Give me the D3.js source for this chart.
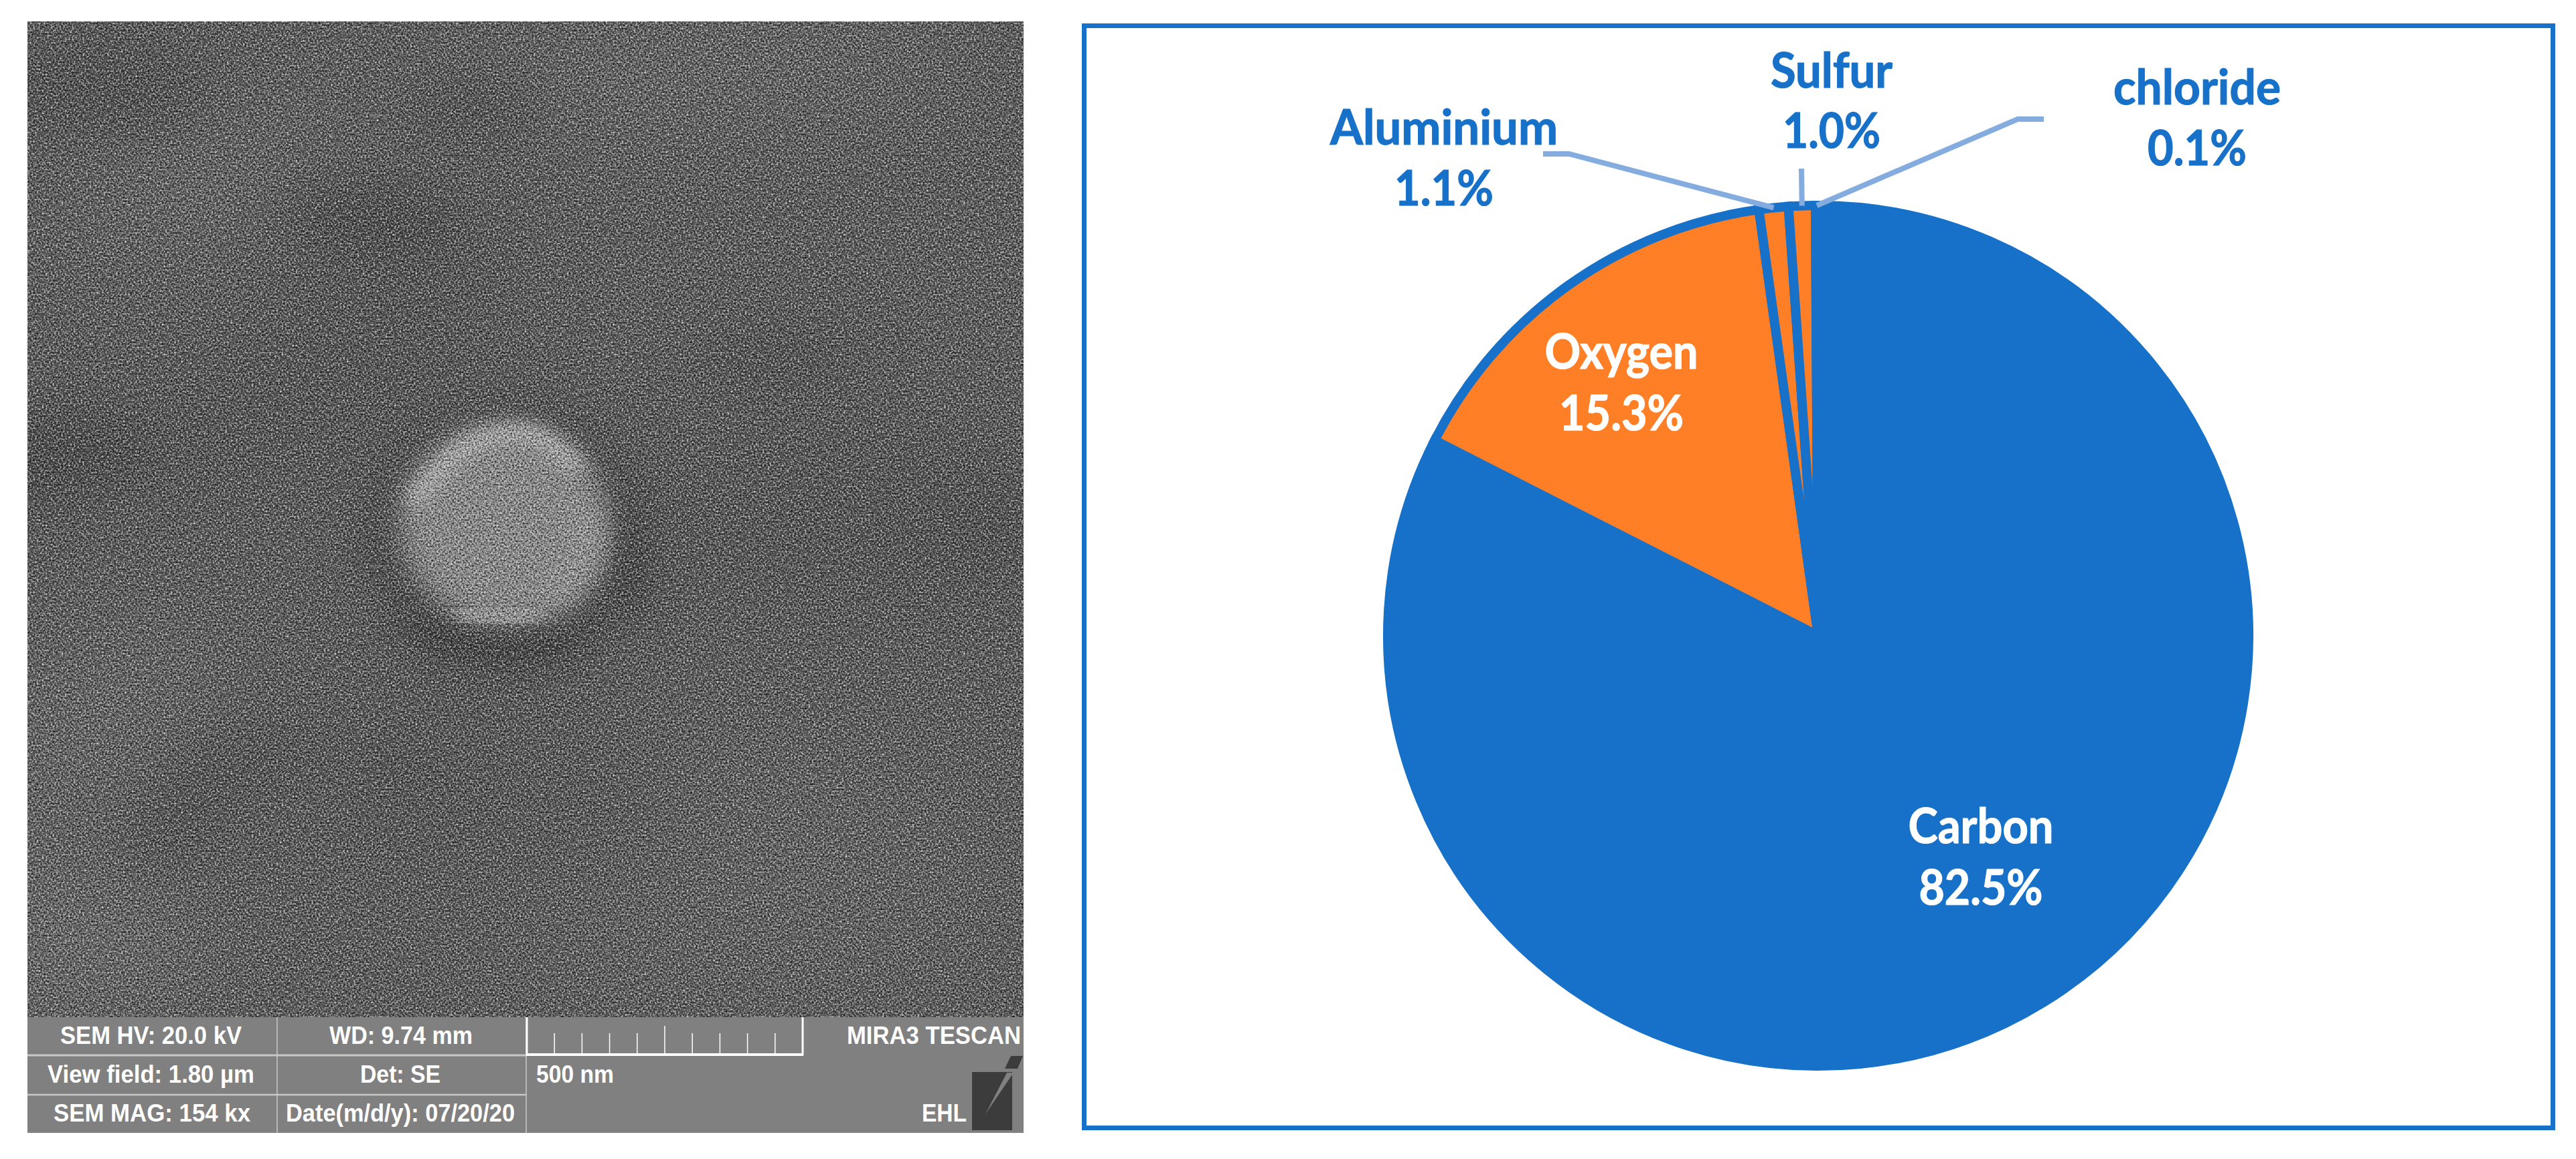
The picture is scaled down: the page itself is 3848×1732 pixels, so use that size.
<!DOCTYPE html>
<html>
<head>
<meta charset="utf-8">
<script src="https://cdn.jsdelivr.net/npm/d3@7"></script>
<style>
  html, body { margin: 0; padding: 0; background: #fff; }
  svg { display: block; }
</style>
</head>
<body>
<svg id="chart" width="3848" height="1732"></svg>
<script>
// pie data
var elements = ["Carbon", "Oxygen", "Aluminium", "Sulfur", "chloride"];
var shares = [82.5, 15.3, 1.1, 1.0, 0.1];
var sliceColors = ["#1871c9", "#ff7f27", "#ff7f27", "#ff7f27", "#1871c9"];

// info strip under the SEM picture
var semTexts = ["SEM HV: 20.0 kV", "WD: 9.74 mm", "MIRA3 TESCAN", "View field: 1.80 µm", "Det: SE", "500 nm", "SEM MAG: 154 kx", "Date(m/d/y): 07/20/20", "EHL"];
var scaleBarTicks = d3.range(0, 501, 50);

var blue = "#1871c9", leaderBlue = "#85acdf", stripGrey = "#808080";
var svg = d3.select("#chart");
var defs = svg.append("defs");

// ---------- left: SEM picture ----------
var img = { x: 41, y: 32, w: 1488, h: 1488 };

defs.append("clipPath").attr("id", "imgClip").append("rect")
  .attr("x", img.x).attr("y", img.y).attr("width", img.w).attr("height", img.h);

// grain comes from a turbulence filter, not from any data
var grain = defs.append("filter").attr("id", "grain")
  .attr("x", 0).attr("y", 0).attr("width", 1).attr("height", 1)
  .attr("color-interpolation-filters", "sRGB");
grain.append("feTurbulence").attr("type", "fractalNoise")
  .attr("baseFrequency", 0.38).attr("numOctaves", 2).attr("seed", 7);
grain.append("feColorMatrix").attr("type", "matrix")
  .attr("values", "1.15 0 0 0 -0.08  1.15 0 0 0 -0.08  1.15 0 0 0 -0.08  0 0 0 0 1");

[["soft70", 70], ["soft40", 40], ["soft20", 20], ["soft12", 12]].forEach(function(b) {
  defs.append("filter").attr("id", b[0])
    .attr("x", "-60%").attr("y", "-60%").attr("width", "220%").attr("height", "220%")
    .append("feGaussianBlur").attr("stdDeviation", b[1]);
});

var sem = svg.append("g").attr("clip-path", "url(#imgClip)");
sem.append("rect").attr("x", img.x).attr("y", img.y).attr("width", img.w).attr("height", img.h).attr("fill", "#5a5a5a");

function blob(g, cx, cy, rx, ry, rot, fill) {
  g.append("ellipse").attr("cx", cx).attr("cy", cy).attr("rx", rx).attr("ry", ry)
    .attr("transform", "rotate(" + rot + " " + cx + " " + cy + ")").attr("fill", fill);
}

// broad shading of the film
var shading = sem.append("g").attr("filter", "url(#soft70)");
blob(shading, 1000, 110, 450, 80, -5, "#636363");
blob(shading, 300, 260, 220, 90, -15, "#646464");
blob(shading, 150, 1080, 210, 120, -25, "#646464");
blob(shading, 110, 1400, 200, 120, 0, "#666666");
blob(shading, 1100, 1300, 380, 200, 0, "#5e5e5e");
blob(shading, 1280, 780, 300, 130, 0, "#525252");
blob(shading, 480, 560, 300, 120, -30, "#525252");
blob(shading, 750, 1200, 260, 140, 0, "#565656");

var patches = sem.append("g").attr("filter", "url(#soft40)");
blob(patches, 150, 130, 170, 70, 0, "#4f4f4f");
blob(patches, 560, 330, 140, 50, 5, "#494949");
blob(patches, 705, 165, 110, 50, 0, "#505050");
blob(patches, 100, 675, 140, 65, 0, "#484848");
blob(patches, 30, 700, 60, 70, 0, "#484848");
blob(patches, 360, 1140, 130, 50, -15, "#515151");
blob(patches, 260, 1240, 90, 50, -30, "#515151");
blob(patches, 590, 1140, 70, 50, 0, "#515151");
blob(patches, 1470, 790, 70, 80, 0, "#4f4f4f");
blob(patches, 1160, 540, 120, 60, 0, "#515151");

// dark halo, heavier under the particle, then the particle itself
var halo = sem.append("g").attr("filter", "url(#soft40)");
blob(halo, 755, 805, 205, 195, 0, "#454545");
var haloUnder = sem.append("g").attr("filter", "url(#soft20)");
blob(haloUnder, 735, 950, 125, 30, 4, "#3f3f3f");
blob(haloUnder, 935, 830, 22, 90, -10, "#454545");

var particle = sem.append("g");
particle.append("ellipse").attr("cx", 753).attr("cy", 784).attr("rx", 158).attr("ry", 151)
  .attr("fill", "#8a8a8a").attr("filter", "url(#soft20)");

function rimStroke(points, color, width, blur) {
  particle.append("path")
    .attr("d", d3.line().curve(d3.curveCatmullRom)(points))
    .attr("fill", "none").attr("stroke", color).attr("stroke-width", width)
    .attr("stroke-linecap", "round").attr("filter", "url(#" + blur + ")");
}
rimStroke([[620, 745], [650, 710], [705, 662], [795, 650], [860, 695]], "#b4b4b4", 24, "soft12");
rimStroke([[875, 772], [880, 839], [825, 900]], "#a0a0a0", 26, "soft20");
rimStroke([[690, 915], [745, 925], [800, 918]], "#a6a6a6", 22, "soft12");

sem.append("rect").attr("x", img.x).attr("y", img.y).attr("width", img.w).attr("height", img.h)
  .attr("filter", "url(#grain)").style("mix-blend-mode", "hard-light");

// ---------- info strip ----------
var strip = svg.append("g");
strip.append("rect").attr("x", 41).attr("y", 1520).attr("width", 1488).attr("height", 173).attr("fill", stripGrey);

[[414, 1520, 414, 1693, 1.5], [786, 1520, 786, 1693, 1.5], [41, 1577, 786, 1577, 3], [41, 1636, 786, 1636, 2.5]].forEach(function(l) {
  strip.append("line").attr("x1", l[0]).attr("y1", l[1]).attr("x2", l[2]).attr("y2", l[3])
    .attr("stroke", "#c8c8c8").attr("stroke-width", l[4]);
});

var barX = d3.scaleLinear().domain([0, 500]).range([787, 1199]);
strip.selectAll("line.bartick").data(scaleBarTicks).enter().append("line")
  .attr("class", "bartick")
  .attr("x1", function(d) { return barX(d); })
  .attr("x2", function(d) { return barX(d); })
  .attr("y1", function(d) { return d === 0 || d === 500 ? 1520 : d === 250 ? 1533 : 1544; })
  .attr("y2", 1577)
  .attr("stroke", "#fff")
  .attr("stroke-width", function(d) { return d === 0 || d === 500 ? 3 : 1.5; });
strip.append("line").attr("x1", barX(0) - 1).attr("x2", barX(500) + 1).attr("y1", 1576).attr("y2", 1576)
  .attr("stroke", "#fff").attr("stroke-width", 4);

// x from, x to, baseline for each strip text
var semTextBoxes = [[90, 361, 1560], [492, 706, 1560], [1265, 1525, 1560], [71, 380, 1618], [538, 658, 1618], [801, 917, 1618], [80, 374, 1676], [427, 769, 1676], [1377, 1444, 1676]];
strip.selectAll("text").data(semTexts).enter().append("text")
  .attr("x", function(d, i) { return semTextBoxes[i][0]; })
  .attr("y", function(d, i) { return semTextBoxes[i][2]; })
  .attr("textLength", function(d, i) { return semTextBoxes[i][1] - semTextBoxes[i][0]; })
  .attr("lengthAdjust", "spacingAndGlyphs")
  .attr("font-family", "Liberation Sans")
  .attr("font-weight", "bold")
  .attr("font-size", 36)
  .attr("fill", "#fff")
  .text(function(d) { return d; });

// TESCAN logo
strip.append("rect").attr("x", 1452).attr("y", 1602).attr("width", 60).attr("height", 87).attr("fill", "#3c3c3c");
strip.append("polygon").attr("points", "1510,1578 1528,1578 1520,1597 1501,1597").attr("fill", "#3c3c3c");
strip.append("polygon").attr("points", "1504,1603 1514,1603 1472,1665").attr("fill", stripGrey);

// ---------- right: pie ----------
svg.append("rect").attr("x", 1619.5).attr("y", 38.5).attr("width", 2194).attr("height", 1647)
  .attr("fill", "#fff").attr("stroke", blue).attr("stroke-width", 7);

var cx = 2716, cy = 950, radius = 643;
var slices = d3.pie().sort(null)(shares);
var arc = d3.arc().innerRadius(0).outerRadius(radius);

var pieG = svg.append("g").attr("transform", "translate(" + cx + "," + cy + ")");
pieG.selectAll("path").data(slices).enter().append("path")
  .attr("d", arc)
  .attr("fill", function(d, i) { return sliceColors[i]; })
  .attr("stroke", blue)
  .attr("stroke-width", 14)
  .attr("stroke-linejoin", "miter");

// leader lines start on the rim at each slice's middle angle
var leaderElbows = { Aluminium: [[2344, 230], [2305, 230]], Sulfur: [[2691, 252]], chloride: [[3014, 178], [3053, 178]] };
var leader = d3.line();
slices.forEach(function(s, i) {
  var elbow = leaderElbows[elements[i]];
  if (!elbow) return;
  var mid = (s.startAngle + s.endAngle) / 2;
  var start = [cx + radius * Math.sin(mid), cy - radius * Math.cos(mid)];
  svg.append("path").attr("d", leader([start].concat(elbow)))
    .attr("fill", "none").attr("stroke", leaderBlue).attr("stroke-width", 8);
});

// label layout: centre x, text widths, baselines of name and percent
var labelBoxes = {
  Carbon: { c: 2959, nameW: 217, pctW: 185, y1: 1260, y2: 1352, fill: "#fff" },
  Oxygen: { c: 2422, nameW: 229, pctW: 186, y1: 551, y2: 643, fill: "#fff" },
  Aluminium: { c: 2157, nameW: 340, pctW: 148, y1: 216, y2: 307, fill: blue },
  Sulfur: { c: 2736, nameW: 182, pctW: 146, y1: 131, y2: 221, fill: blue },
  chloride: { c: 3282, nameW: 250, pctW: 148, y1: 156, y2: 247, fill: blue }
};
var pct = d3.format(".1f");
var labels = svg.append("g")
  .attr("font-family", "Lato").attr("font-weight", "bold").attr("font-size", 72).attr("text-anchor", "middle");
elements.forEach(function(name, i) {
  var b = labelBoxes[name];
  labels.append("text").attr("x", b.c).attr("y", b.y1).attr("fill", b.fill).attr("stroke", b.fill).attr("stroke-width", 1.2)
    .attr("textLength", b.nameW).attr("lengthAdjust", "spacingAndGlyphs").text(name);
  labels.append("text").attr("x", b.c).attr("y", b.y2).attr("fill", b.fill).attr("stroke", b.fill).attr("stroke-width", 1.2)
    .attr("textLength", b.pctW).attr("lengthAdjust", "spacingAndGlyphs").text(pct(shares[i]) + "%");
});
</script>
</body>
</html>
